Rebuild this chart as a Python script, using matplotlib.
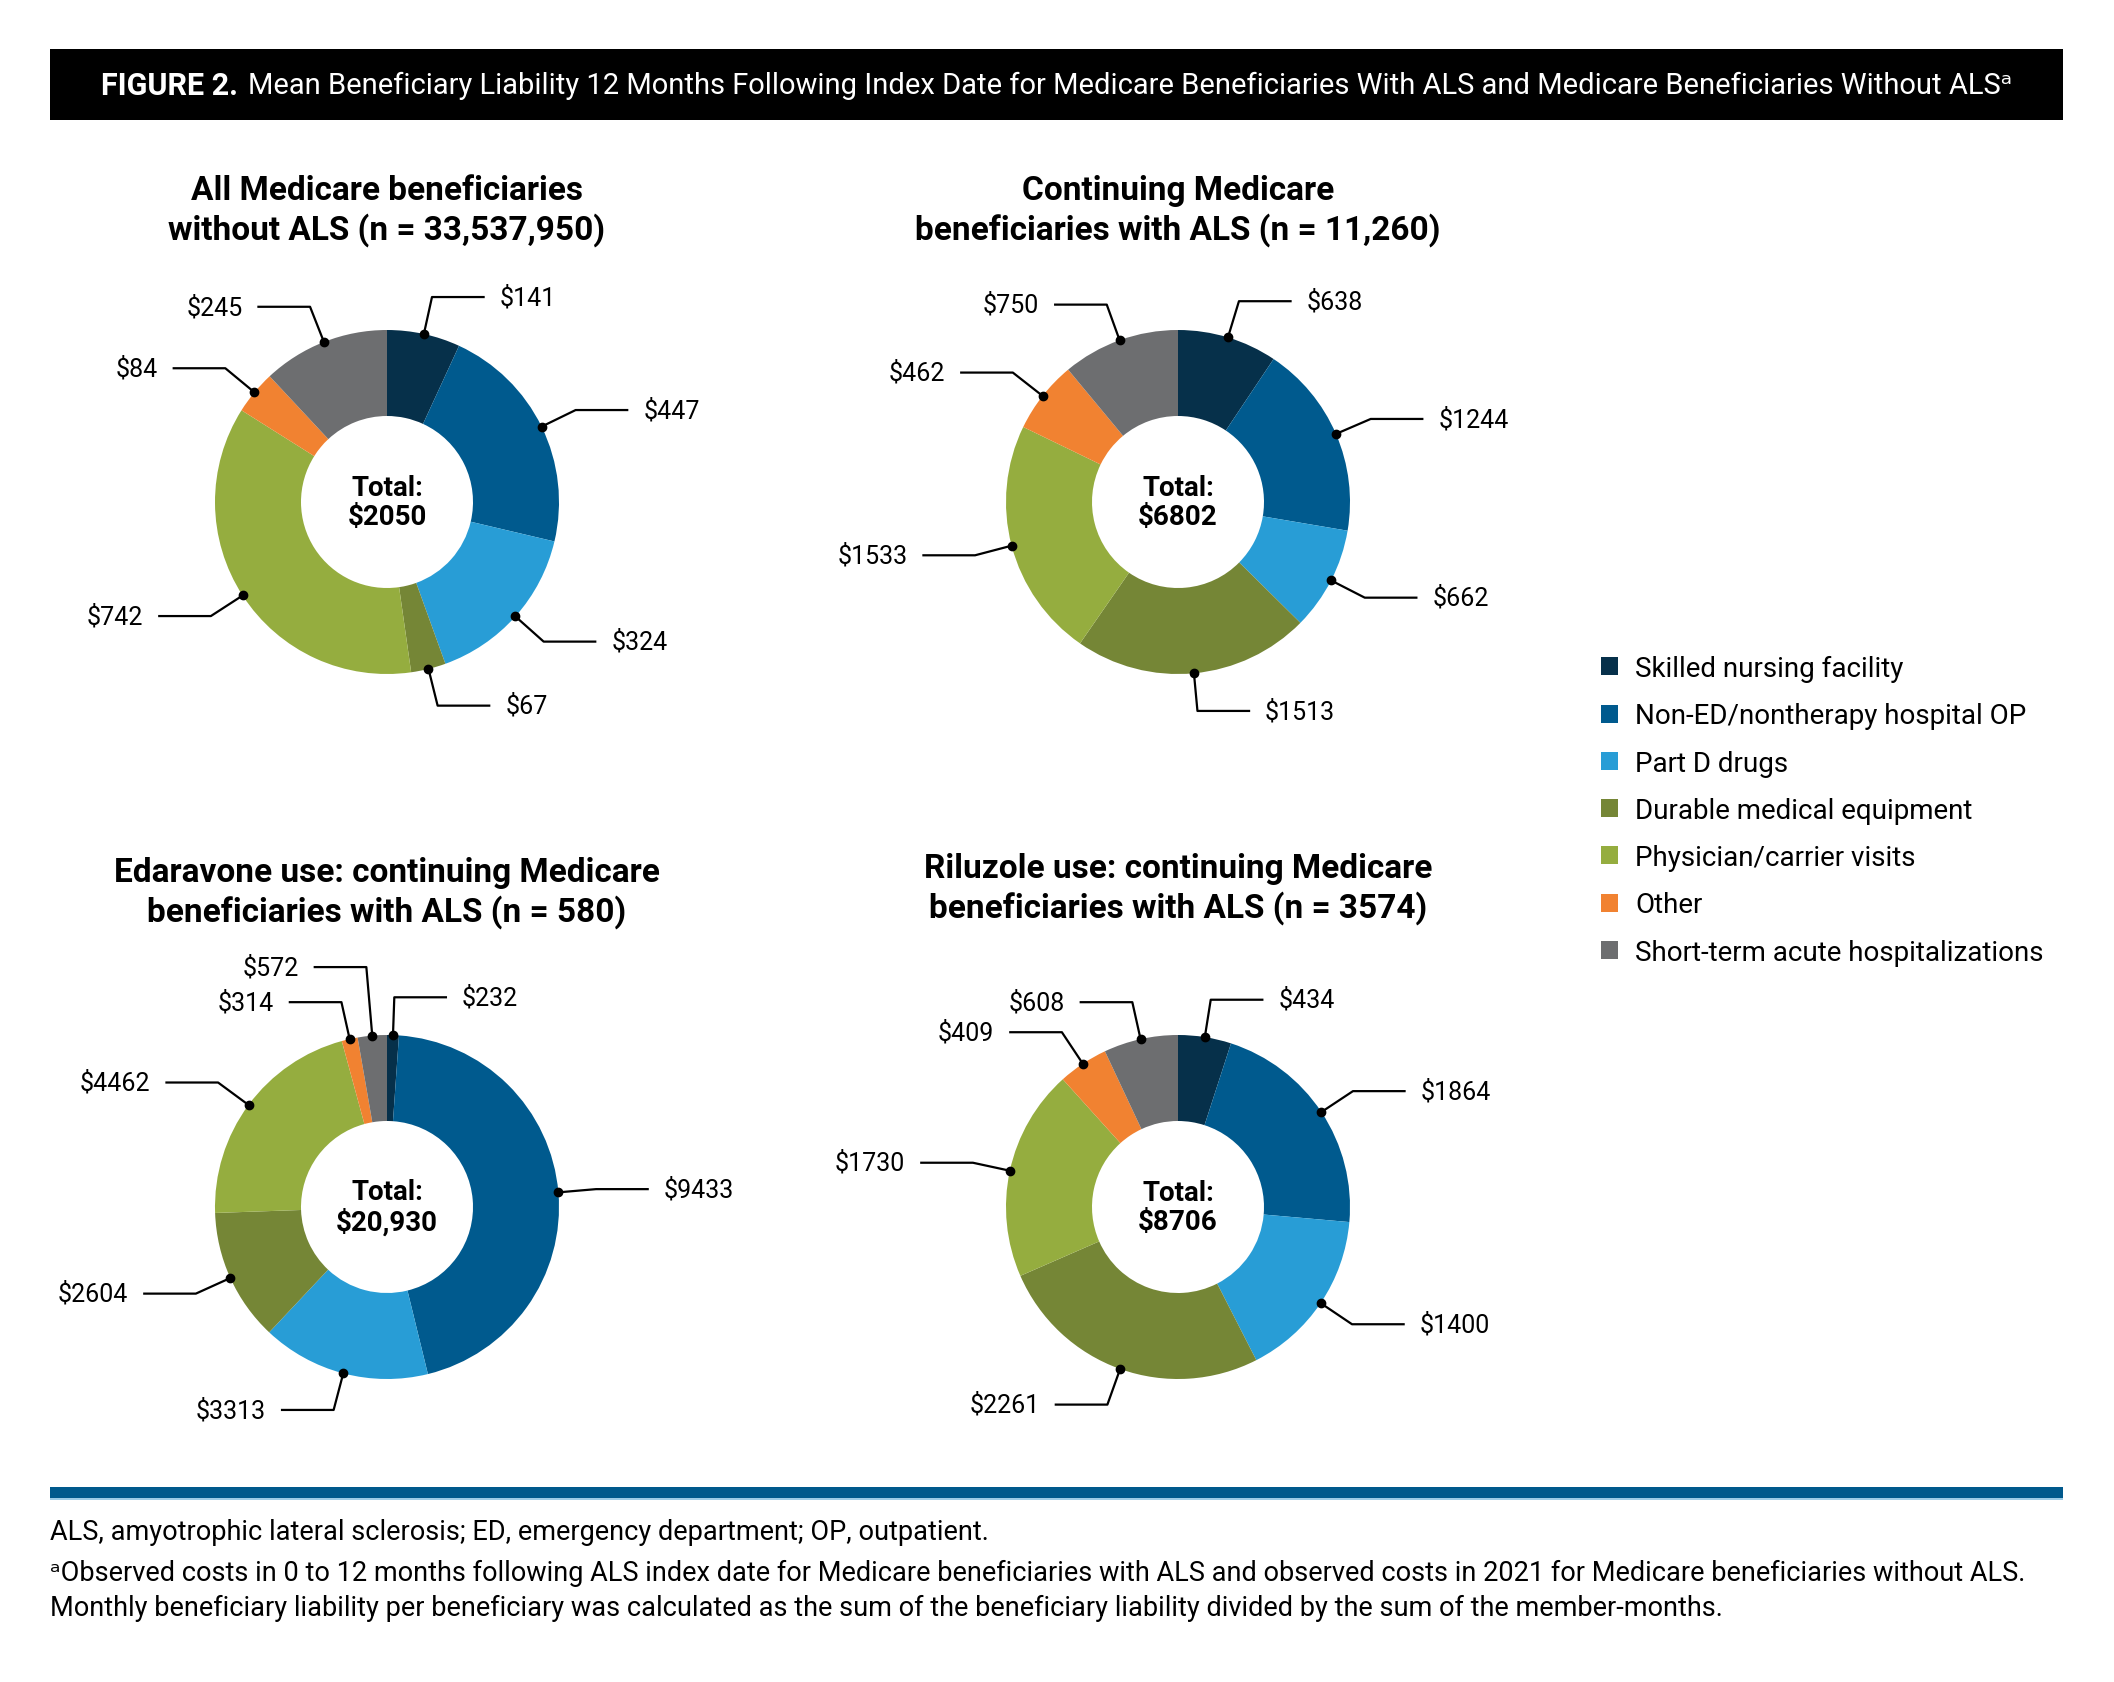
import numpy as np
import matplotlib.pyplot as plt
from matplotlib.patches import Rectangle

plt.rcParams['font.family'] = ['Roboto', 'DejaVu Sans']

W, H = 2114, 1683

# categories and colours (clockwise from 12 o'clock)
categories = ["Skilled nursing facility", "Non-ED/nontherapy hospital OP", "Part D drugs",
              "Durable medical equipment", "Physician/carrier visits", "Other",
              "Short-term acute hospitalizations"]
colors = ["#06304a", "#005a8e", "#289dd6", "#758636", "#95ad3f", "#f18231", "#6d6e70"]

# mean beneficiary liability ($)
no_als = [141, 447, 324, 67, 742, 84, 245]
continuing = [638, 1244, 662, 1513, 1533, 462, 750]
edaravone = [232, 9433, 3313, 2604, 4462, 314, 572]
riluzole = [434, 1864, 1400, 2261, 1730, 409, 608]

titles = ["All Medicare beneficiaries\nwithout ALS (n = 33,537,950)",
          "Continuing Medicare\nbeneficiaries with ALS (n = 11,260)",
          "Edaravone use: continuing Medicare\nbeneficiaries with ALS (n = 580)",
          "Riluzole use: continuing Medicare\nbeneficiaries with ALS (n = 3574)"]

header_bold = "FIGURE 2."
header_text = ("Mean Beneficiary Liability 12 Months Following Index Date for Medicare "
               "Beneficiaries With ALS and Medicare Beneficiaries Without ALS\u1d43")
notes = ["ALS, amyotrophic lateral sclerosis; ED, emergency department; OP, outpatient.",
         "\u1d43Observed costs in 0 to 12 months following ALS index date for Medicare beneficiaries with ALS and observed costs in 2021 for Medicare beneficiaries without ALS.",
         "Monthly beneficiary liability per beneficiary was calculated as the sum of the beneficiary liability divided by the sum of the member-months."]

# layout (pixels, y measured from top)
R = 172
centers = [(387, 503), (1178, 503), (387, 1208), (1178, 1208)]
title_y = [211, 211, 893, 889]
elbow_override = {(2, 6): 1.40}

fig = plt.figure(figsize=(W / 100, H / 100), dpi=100)
ax = fig.add_axes([0, 0, 1, 1])


def fmt(v):
    return f"${v:,}" if v >= 10000 else f"${v}"


first_wedges = None
for k, vals in enumerate([no_als, continuing, edaravone, riluzole]):
    cx, cy = centers[k][0], H - centers[k][1]
    wedges, _ = ax.pie(vals, colors=colors, startangle=90, counterclock=False, radius=R,
                       center=(cx, cy), frame=True,
                       wedgeprops=dict(width=R * 0.5, linewidth=0))
    if first_wedges is None:
        first_wedges = wedges
    for i, (w, v) in enumerate(zip(wedges, vals)):
        a = np.deg2rad((w.theta1 + w.theta2) / 2)
        c, s = np.cos(a), np.sin(a)
        px, py = cx + R * c, cy + R * s
        er = elbow_override.get((k, i), 1.22) * R
        ex, ey = cx + er * c, cy + er * s
        side = 1 if c >= 0 else -1
        hx = ex + side * 0.3 * R
        ax.plot([px, ex, hx], [py, ey, ey], color='black', lw=1.6, zorder=5)
        ax.plot(px, py, 'o', color='black', ms=6, zorder=6)
        ax.text(hx + side * 16, ey, fmt(v), fontsize=18, va='center',
                ha='left' if side > 0 else 'right')
    ax.text(cx, cy, "Total:\n" + fmt(sum(vals)), fontsize=20, fontweight='bold',
            ha='center', va='center', linespacing=1.12)
    ax.text(cx, H - title_y[k], titles[k], fontsize=24, fontweight='bold',
            ha='center', va='center', linespacing=1.2)

ax.set_xlim(0, W)
ax.set_ylim(0, H)
ax.set_aspect('equal')
ax.axis('off')

# header bar
ax.add_patch(Rectangle((50, H - 121), 2013, 71, color='black', lw=0))
tb = ax.text(101, H - 86, header_bold, color='white', fontsize=22, fontweight='bold',
             va='center')
fig.canvas.draw()
bb = tb.get_window_extent()
ax.text(bb.x1 + 10, H - 86, header_text, color='white', fontsize=21, va='center')

# legend
ax.legend(first_wedges, categories, loc='upper left', bbox_to_anchor=(1601, H - 656),
          bbox_transform=ax.transData, frameon=False, fontsize=20, handlelength=0.62,
          handleheight=0.62, handletextpad=0.6, labelspacing=0.73, borderaxespad=0,
          borderpad=0)

# bottom rule and notes
ax.add_patch(Rectangle((50, H - 1499), 2013, 11, color='#00598c', lw=0))
ax.add_patch(Rectangle((50, H - 1501), 2013, 2, color='#9ccbe6', lw=0))
for y, n in zip([1533, 1573, 1608], notes):
    ax.text(50, H - y, n, fontsize=19.5, va='center', ha='left')

fig.savefig('out.png', dpi=100)
